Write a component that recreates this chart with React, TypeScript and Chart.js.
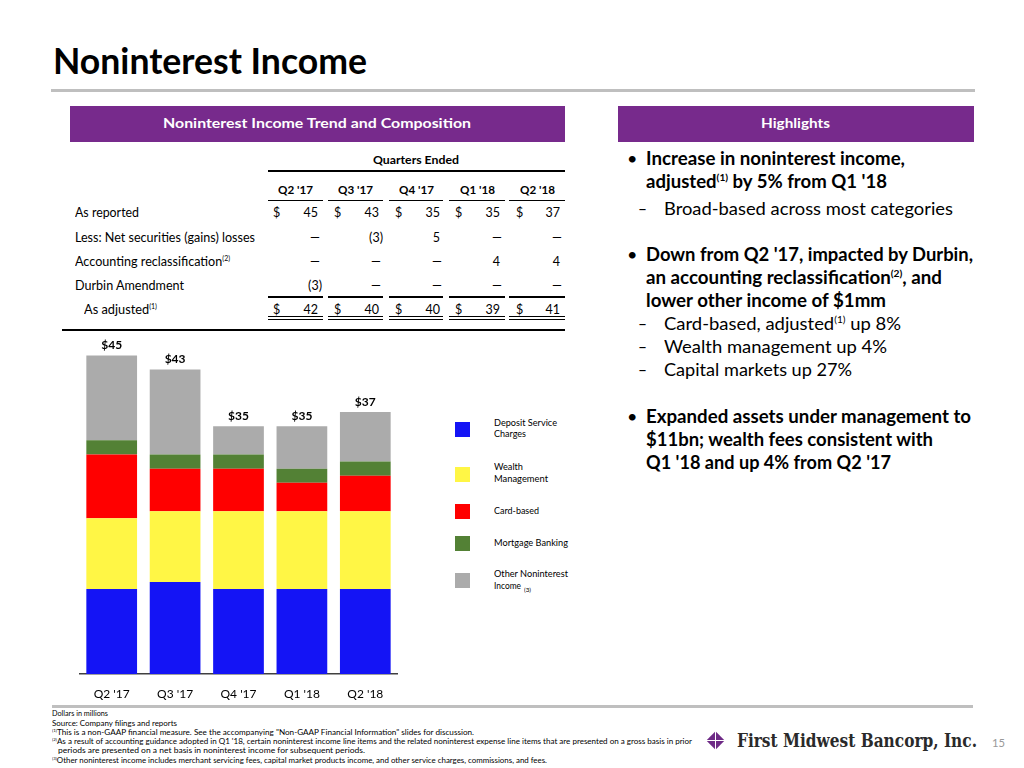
import React, { useEffect, useLayoutEffect, useRef, useState } from "react";
import { Chart, registerables } from "chart.js";
Chart.register(...registerables);

const FONT = "Lato, 'Open Sans', 'DejaVu Sans', sans-serif";
const PURPLE = "#772A8C";

// ---- chart data ----
const categories = ["Q2 '17", "Q3 '17", "Q4 '17", "Q1 '18", "Q2 '18"];
const depositServiceCharges = [12, 13, 12, 12, 12];
const wealthManagement = [10, 10, 11, 11, 11];
const cardBased = [9, 6, 6, 4, 5];
const mortgageBanking = [2, 2, 2, 2, 2];
const otherNoninterestIncome = [12, 12, 4, 6, 7];
const seriesNames = ["Deposit Service Charges", "Wealth Management", "Card-based", "Mortgage Banking", "Other Noninterest Income"];
const seriesColors = ["#1414F5", "#FFF645", "#FF0000", "#538135", "#ABABAB"];

// ---- table data ----
const rowLabels = ["As reported", "Less: Net securities (gains) losses", "Accounting reclassification", "Durbin Amendment", "As adjusted"];
const asReported = ["45", "43", "35", "35", "37"];
const netSecurities = ["—", "(3)", "5", "—", "—"];
const accountingReclass = ["—", "—", "—", "4", "4"];
const durbinAmendment = ["(3)", "—", "—", "—", "—"];
const asAdjusted = ["42", "40", "40", "39", "41"];

type TxtProps = {
  x: number; y: number; w?: number; size: number; bold?: boolean; color?: string;
  family?: string; anchor?: "left" | "center" | "right"; children: React.ReactNode;
};

function Txt({ x, y, w, size, bold, color, family, anchor = "left", children }: TxtProps) {
  const ref = useRef<HTMLSpanElement>(null);
  const [tick, setTick] = useState(0);
  useEffect(() => {
    (document as any).fonts?.ready?.then(() => setTick((t) => t + 1));
  }, []);
  useLayoutEffect(() => {
    const el = ref.current;
    if (!el) return;
    el.style.transform = "none";
    const nat = el.getBoundingClientRect().width;
    if (!nat) return;
    const s = w ? w / nat : 1;
    const fw = nat * s;
    el.style.transform = `scaleX(${s})`;
    const left = anchor === "left" ? x : anchor === "center" ? x - fw / 2 : x - fw;
    el.style.left = `${left}px`;
  }, [tick, x, w, anchor]);
  return (
    <span
      ref={ref}
      style={{
        position: "absolute",
        left: x,
        top: y - size * 0.65,
        fontSize: size,
        lineHeight: `${size * 1.2}px`,
        whiteSpace: "nowrap",
        fontWeight: bold ? 700 : 400,
        fontFamily: family || FONT,
        color: color || "#000",
        transformOrigin: "left center",
      }}
    >
      {children}
    </span>
  );
}

const Sup = ({ children }: { children: React.ReactNode }) => (
  <span style={{ fontSize: "0.55em", position: "relative", top: "-0.75em" }}>{children}</span>
);

function Line({ x1, x2, y, h = 1, color = "#000" }: { x1: number; x2: number; y: number; h?: number; color?: string }) {
  return <div style={{ position: "absolute", left: x1, top: y - h / 2, width: x2 - x1, height: h, background: color }} />;
}

function BarChart() {
  const ref = useRef<HTMLCanvasElement>(null);
  useEffect(() => {
    const series = [depositServiceCharges, wealthManagement, cardBased, mortgageBanking, otherNoninterestIncome];
    const totals = categories.map((_, i) => series.reduce((s, arr) => s + arr[i], 0));
    const totalsPlugin = {
      id: "totals",
      afterDatasetsDraw(chart: any) {
        const ctx = chart.ctx;
        const last = chart.getDatasetMeta(chart.data.datasets.length - 1);
        ctx.save();
        ctx.font = `bold 12px ${FONT}`;
        ctx.fillStyle = "#000";
        ctx.textAlign = "center";
        ctx.textBaseline = "middle";
        last.data.forEach((bar: any, i: number) => {
          ctx.fillText("$" + totals[i], bar.x, bar.y - 10);
        });
        ctx.restore();
      },
    };
    const chart = new Chart(ref.current as HTMLCanvasElement, {
      type: "bar",
      data: {
        labels: categories,
        datasets: series.map((d, i) => ({
          label: seriesNames[i],
          data: d,
          backgroundColor: seriesColors[i],
          borderWidth: 0,
          barPercentage: 0.8,
          categoryPercentage: 1,
        })),
      },
      options: {
        animation: false,
        responsive: false,
        layout: { padding: { left: 10, right: 10, top: 0, bottom: 0 } },
        plugins: { legend: { display: false }, tooltip: { enabled: false } },
        scales: {
          x: {
            stacked: true,
            grid: { display: false, drawTicks: false },
            border: { display: true, color: "#404040", width: 1.5 },
            ticks: { color: "#000", font: { family: FONT, size: 12 }, padding: 13, maxRotation: 0 },
            afterFit: (scale: any) => { scale.height = 27; },
          },
          y: { stacked: true, display: false, min: 0, max: 50 },
        },
      },
      plugins: [totalsPlugin],
    });
    return () => chart.destroy();
  }, []);
  return <canvas ref={ref} width={337} height={381} style={{ position: "absolute", left: 70, top: 320 }} />;
}

export default function App() {
  const colCenter = [295, 355, 416, 477, 537];
  const colRight = [318, 379, 440, 500, 560];
  const dollarLeft = [273, 334, 395, 455, 516];
  const segs = [[268, 323], [328, 383], [389, 443], [449, 505], [509, 565]];
  const rowY = [213, 238, 262, 286, 310];
  const rows = [asReported, netSecurities, accountingReclass, durbinAmendment, asAdjusted];

  const valueRight = (v: string, i: number) => (v.endsWith(")") ? colRight[i] + 4 : v === "—" ? colRight[i] + 2 : colRight[i]);

  const legendY = [
    { sq: 422, lines: [["Deposit Service", 424, 63], ["Charges", 435, 32]] },
    { sq: 467, lines: [["Wealth", 468, 29], ["Management", 480, 54]] },
    { sq: 504, lines: [["Card-based", 512, 45]] },
    { sq: 536, lines: [["Mortgage Banking", 544, 74]] },
    { sq: 573, lines: [["Other Noninterest", 575, 74]] },
  ];

  return (
    <div style={{ position: "absolute", left: 0, top: 0, width: 1024, height: 768, background: "#fff", overflow: "hidden" }}>
      {/* Title */}
      <Txt x={53} y={62} w={314} size={37} bold>Noninterest Income</Txt>
      <Line x1={51} x2={975} y={90} h={3} color="#BFBFBF" />

      {/* Purple headers */}
      <div style={{ position: "absolute", left: 70, top: 106, width: 495, height: 36, background: PURPLE }} />
      <div style={{ position: "absolute", left: 618, top: 106, width: 356, height: 36, background: PURPLE }} />
      <Txt x={317} y={124} w={308} size={14} bold color="#fff" anchor="center">Noninterest Income Trend and Composition</Txt>
      <Txt x={795.5} y={124} w={69} size={14} bold color="#fff" anchor="center">Highlights</Txt>

      {/* Table */}
      <Txt x={416} y={160} w={86} size={11.5} bold anchor="center">Quarters Ended</Txt>
      <Line x1={268} x2={565} y={171} h={1.3} />
      {categories.map((q, i) => (
        <Txt key={q} x={colCenter[i]} y={190} w={35} size={11.5} bold anchor="center">{q}</Txt>
      ))}
      {segs.map(([a, b], i) => <Line key={"h" + i} x1={a} x2={b} y={200.5} h={1.3} />)}
      <Txt x={75} y={rowY[0]} w={64} size={12.5}>{rowLabels[0]}</Txt>
      <Txt x={75} y={rowY[1]} w={180} size={12.5}>{rowLabels[1]}</Txt>
      <Txt x={75} y={rowY[2]} w={155} size={12.5}>{rowLabels[2]}<Sup>(2)</Sup></Txt>
      <Txt x={75} y={rowY[3]} w={109} size={12.5}>{rowLabels[3]}</Txt>
      <Txt x={84} y={rowY[4]} w={73} size={12.5}>{rowLabels[4]}<Sup>(1)</Sup></Txt>
      {rows.map((row, r) =>
        row.map((v, i) => (
          <Txt key={r + "-" + i} x={valueRight(v, i)} y={rowY[r]} size={12.5} anchor="right">{v}</Txt>
        ))
      )}
      {[0, 4].map((r) =>
        dollarLeft.map((x, i) => <Txt key={"d" + r + i} x={x} y={rowY[r]} size={12.5}>$</Txt>)
      )}
      {segs.map(([a, b], i) => <Line key={"s" + i} x1={a} x2={b} y={297} h={1.3} />)}
      {segs.map(([a, b], i) => <Line key={"u1" + i} x1={a} x2={b} y={316.5} h={1} />)}
      {segs.map(([a, b], i) => <Line key={"u2" + i} x1={a} x2={b} y={319.5} h={1} />)}
      <Line x1={62} x2={565} y={329.5} h={2} />

      {/* Chart */}
      <BarChart />

      {/* Legend */}
      {legendY.map((l, i) => (
        <React.Fragment key={i}>
          <div style={{ position: "absolute", left: 455, top: l.sq, width: 15, height: 15, background: seriesColors[i] }} />
          {l.lines.map(([t, y, w]) => (
            <Txt key={t as string} x={494} y={y as number} w={w as number} size={9}>{t}</Txt>
          ))}
        </React.Fragment>
      ))}
      <Txt x={494} y={587} w={27} size={9}>Income</Txt>
      <Txt x={524} y={590} w={7} size={6}>(3)</Txt>

      {/* Highlights */}
      <Txt x={627} y={160} size={18}>•</Txt>
      <Txt x={646} y={160} w={259} size={18} bold>Increase in noninterest income,</Txt>
      <Txt x={646} y={183} w={241} size={18} bold>adjusted<Sup>(1)</Sup> by 5% from Q1 '18</Txt>
      <Txt x={638} y={210} w={9} size={18}>–</Txt>
      <Txt x={664} y={210} w={289} size={18}>Broad-based across most categories</Txt>

      <Txt x={627} y={256} size={18}>•</Txt>
      <Txt x={646} y={256} w={327} size={18} bold>Down from Q2 '17, impacted by Durbin,</Txt>
      <Txt x={646} y={279} w={296} size={18} bold>an accounting reclassification<Sup>(2)</Sup>, and</Txt>
      <Txt x={646} y={302} w={240} size={18} bold>lower other income of $1mm</Txt>
      <Txt x={638} y={325} w={9} size={18}>–</Txt>
      <Txt x={664} y={325} w={237} size={18}>Card-based, adjusted<Sup>(1)</Sup> up 8%</Txt>
      <Txt x={638} y={348} w={9} size={18}>–</Txt>
      <Txt x={664} y={348} w={223} size={18}>Wealth management up 4%</Txt>
      <Txt x={638} y={371} w={9} size={18}>–</Txt>
      <Txt x={664} y={371} w={188} size={18}>Capital markets up 27%</Txt>

      <Txt x={627} y={418} size={18}>•</Txt>
      <Txt x={646} y={418} w={325} size={18} bold>Expanded assets under management to</Txt>
      <Txt x={646} y={441} w={287} size={18} bold>$11bn; wealth fees consistent with</Txt>
      <Txt x={646} y={464} w={245} size={18} bold>Q1 '18 and up 4% from Q2 '17</Txt>

      {/* Footer */}
      <Line x1={52} x2={973} y={706} h={3} color="#BFBFBF" />
      <Txt x={52} y={714} w={56} size={8}>Dollars in millions</Txt>
      <Txt x={52} y={724} w={125} size={8}>Source: Company filings and reports</Txt>
      <Txt x={52} y={733} w={422} size={8}><Sup>(1)</Sup>This is a non-GAAP financial measure. See the accompanying "Non-GAAP Financial Information" slides for discussion.</Txt>
      <Txt x={52} y={742} w={640} size={8}><Sup>(2)</Sup>As a result of accounting guidance adopted in Q1 '18, certain noninterest income line items and the related noninterest expense line items that are presented on a gross basis in prior</Txt>
      <Txt x={58} y={751} w={307} size={8}>periods are presented on a net basis in noninterest income for subsequent periods.</Txt>
      <Txt x={52} y={761} w={495} size={8}><Sup>(3)</Sup>Other noninterest income includes merchant servicing fees, capital market products income, and other service charges, commissions, and fees.</Txt>

      {/* Logo */}
      <div style={{ position: "absolute", left: 709, top: 734, width: 13, height: 13, background: "#6E2A86", transform: "rotate(45deg)" }} />
      <div style={{ position: "absolute", left: 715, top: 731, width: 1.2, height: 19, background: "#fff" }} />
      <div style={{ position: "absolute", left: 706, top: 740, width: 19, height: 1.2, background: "#fff" }} />
      <Txt x={737} y={742} w={240} size={18} bold family="'DejaVu Serif', serif" color="#2a2a2a">First Midwest Bancorp, Inc.</Txt>
      <Txt x={992} y={744} w={13} size={12} color="#999">15</Txt>
    </div>
  );
}
